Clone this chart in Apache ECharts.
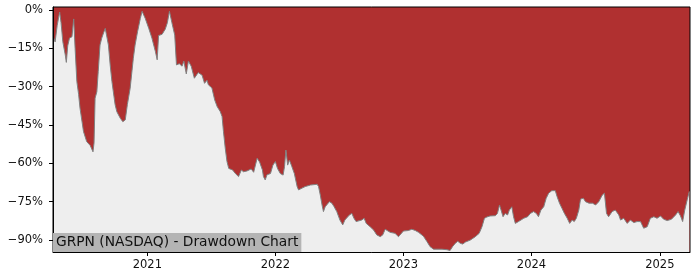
<!DOCTYPE html>
<html><head><meta charset="utf-8">
<script src="https://cdn.jsdelivr.net/npm/echarts@6/dist/echarts.min.js"></script>
<style>html,body{margin:0;padding:0;background:#fff}#c{width:700px;height:280px}</style>
</head><body><div id="c"></div>
<script>
const dates = ['2020-04-08','2020-04-13','2020-04-19','2020-04-26','2020-04-30','2020-05-05','2020-05-12','2020-05-15','2020-05-19','2020-05-24','2020-05-31','2020-06-05','2020-06-09','2020-06-14','2020-06-19','2020-06-23','2020-07-03','2020-07-12','2020-07-22','2020-07-30','2020-08-02','2020-08-05','2020-08-10','2020-08-14','2020-08-19','2020-08-24','2020-08-29','2020-09-03','2020-09-07','2020-09-12','2020-09-17','2020-09-22','2020-09-26','2020-10-01','2020-10-06','2020-10-16','2020-10-23','2020-10-30','2020-11-05','2020-11-13','2020-11-22','2020-11-27','2020-12-04','2020-12-12','2020-12-17','2020-12-26','2021-01-05','2021-01-14','2021-01-24','2021-01-29','2021-02-02','2021-02-12','2021-02-21','2021-02-27','2021-03-05','2021-03-12','2021-03-20','2021-03-25','2021-04-02','2021-04-10','2021-04-15','2021-04-22','2021-04-28','2021-05-06','2021-05-15','2021-05-26','2021-06-06','2021-06-13','2021-06-20','2021-06-24','2021-07-04','2021-07-12','2021-07-19','2021-07-28','2021-08-02','2021-08-06','2021-08-11','2021-08-16','2021-08-21','2021-08-25','2021-09-01','2021-09-09','2021-09-18','2021-09-26','2021-10-02','2021-10-12','2021-10-24','2021-10-31','2021-11-10','2021-11-17','2021-11-25','2021-11-28','2021-12-03','2021-12-08','2021-12-13','2021-12-18','2021-12-25','2022-01-01','2022-01-07','2022-01-15','2022-01-23','2022-01-27','2022-01-31','2022-02-05','2022-02-10','2022-02-17','2022-02-24','2022-03-04','2022-03-08','2022-03-18','2022-03-27','2022-04-11','2022-04-30','2022-05-04','2022-05-09','2022-05-14','2022-05-18','2022-05-23','2022-05-28','2022-06-04','2022-06-11','2022-06-17','2022-06-25','2022-07-04','2022-07-12','2022-07-18','2022-07-31','2022-08-07','2022-08-13','2022-08-19','2022-09-04','2022-09-11','2022-09-17','2022-09-28','2022-10-08','2022-10-17','2022-10-27','2022-11-03','2022-11-10','2022-11-24','2022-12-08','2022-12-18','2023-01-01','2023-01-15','2023-01-25','2023-02-04','2023-02-13','2023-02-27','2023-03-09','2023-03-18','2023-03-28','2023-04-21','2023-05-05','2023-05-14','2023-05-21','2023-05-29','2023-06-05','2023-06-12','2023-06-19','2023-06-27','2023-07-11','2023-07-25','2023-08-05','2023-08-13','2023-08-20','2023-08-27','2023-09-05','2023-09-20','2023-09-26','2023-10-02','2023-10-07','2023-10-12','2023-10-18','2023-10-25','2023-10-30','2023-11-06','2023-11-11','2023-11-16','2023-11-25','2023-12-10','2023-12-21','2023-12-29','2024-01-07','2024-01-15','2024-01-21','2024-01-28','2024-02-05','2024-02-12','2024-02-19','2024-02-28','2024-03-09','2024-03-14','2024-03-21','2024-03-28','2024-04-04','2024-04-12','2024-04-19','2024-04-26','2024-05-02','2024-05-08','2024-05-15','2024-05-20','2024-05-28','2024-06-03','2024-06-13','2024-06-23','2024-07-02','2024-07-11','2024-07-21','2024-07-27','2024-08-02','2024-08-08','2024-08-18','2024-08-27','2024-09-06','2024-09-11','2024-09-20','2024-09-30','2024-10-09','2024-10-19','2024-10-28','2024-11-07','2024-11-16','2024-11-26','2024-12-05','2024-12-15','2024-12-24','2025-01-03','2025-01-12','2025-01-22','2025-02-03','2025-02-15','2025-02-22','2025-03-01','2025-03-07','2025-03-13','2025-03-20','2025-03-26'];
const drawdown = [-10.4,-12.5,-6,-0.8,-5,-12.4,-17.6,-20.5,-14,-11,-10.5,-3.5,-15,-28,-33,-38.4,-47.6,-51.5,-53,-55.5,-52,-34.5,-32,-24,-13.7,-11,-9,-7.2,-7.8,-13.7,-21.5,-28,-32,-37,-39.8,-42.4,-43.7,-43,-37,-30.6,-18.9,-13.7,-8.5,-3.3,-0.5,-3.3,-7.2,-11,-16.3,-19.5,-10,-9.5,-7.5,-5,-0.5,-5,-9.8,-21.5,-21,-22,-20,-25,-20,-22,-26.7,-24.5,-25.5,-28.7,-27.5,-29.3,-30.5,-35.2,-37.8,-39.8,-41.7,-47.6,-54,-59.3,-62,-61.5,-62.6,-64,-65.2,-62.6,-63.3,-63,-62.2,-63.5,-58,-59.5,-62.6,-65.2,-66.5,-64.5,-65.2,-64,-60.7,-59.3,-62,-64,-64.6,-61.3,-54.8,-60.7,-58.7,-61.3,-64,-69.1,-70.4,-69.7,-69.1,-68.5,-68.2,-69.1,-72.4,-76.3,-78.9,-77,-76.3,-75,-75.6,-76.9,-78.9,-82.2,-84.1,-82.2,-80.2,-79.6,-81.5,-82.8,-82.2,-81.5,-83.5,-84.8,-86.1,-88,-88.7,-88,-85.8,-87,-87.4,-88.7,-86.5,-86.3,-85.8,-86.3,-87,-88.5,-90.6,-92.6,-93.6,-93.6,-93.8,-94.1,-92.6,-91.3,-90.5,-91.3,-91.6,-90.8,-90,-88.7,-87.4,-84.8,-81.5,-81,-80.6,-80.5,-79.6,-76.3,-77,-80.9,-79.6,-80.2,-78.3,-77,-80.9,-83.5,-82.8,-81.5,-80.9,-79.6,-78.9,-79.6,-80.9,-78.3,-77,-73.7,-71.7,-70.7,-70.7,-73,-75.6,-77.6,-79.6,-81.5,-83.5,-82.2,-82.8,-81.5,-78.3,-74,-73.7,-75,-75.6,-75.6,-76.3,-75,-72.4,-71.7,-79.6,-80.9,-78.9,-78.3,-80.2,-82.2,-81.5,-83.5,-82.2,-83.2,-82.8,-82.8,-85.4,-84.8,-81.5,-80.9,-81.5,-80.6,-81.9,-82.4,-81.9,-80.2,-78.9,-80.6,-82.8,-78.3,-74.3,-71];
const yearTicks = ['2021','2022','2023','2024','2025'];
const yTicks = [0,-15,-30,-45,-60,-75,-90];
const titleText = 'GRPN (NASDAQ) - Drawdown Chart';

function ts(s){ const p = s.split('-').map(Number); return Date.UTC(p[0], p[1]-1, p[2]); }
const seriesData = dates.map((d,i)=>[ts(d), drawdown[i]]);
const xTickVals = yearTicks.map(y=>ts(y+'-01-01'));
const font = 'DejaVu Sans';

const chart = echarts.init(document.getElementById('c'), null, {renderer:'canvas'});
chart.setOption({
  animation:false,
  backgroundColor:'#ffffff',
  title:{
    text:titleText, left:53, bottom:28,
    backgroundColor:'#b4b4b4', padding:[2,3,2,3],
    textStyle:{fontFamily:font, fontSize:13.8, fontWeight:'normal', color:'#111', lineHeight:15}
  },
  grid:{left:53, right:10, top:7, bottom:28, show:true, backgroundColor:'#b03030', borderColor:'#000', borderWidth:1},
  xAxis:{
    type:'value', min:ts('2020-04-07'), max:ts('2025-03-28'), z:5,
    axisLine:{show:true, onZero:false, lineStyle:{color:'#000', width:1}},
    axisTick:{show:true, length:4, lineStyle:{color:'#000'}, customValues:xTickVals},
    axisLabel:{customValues:xTickVals, fontFamily:font, fontSize:11.5, color:'#111', margin:7,
      formatter:function(v){ return String(new Date(v).getUTCFullYear()); }},
    splitLine:{show:false}
  },
  yAxis:{
    type:'value', min:-94.7, max:1.17, z:5,
    axisLine:{show:true, lineStyle:{color:'#000', width:1}},
    axisTick:{show:true, length:4, lineStyle:{color:'#000'}, customValues:yTicks},
    axisLabel:{customValues:yTicks, fontFamily:font, fontSize:11.5, color:'#111', margin:10,
      formatter:function(v){ return (v<0 ? '\u2212'+Math.abs(v) : String(v)) + '%'; }},
    splitLine:{show:false}
  },
  series:[{
    type:'line', data:seriesData, showSymbol:false, symbol:'none',
    lineStyle:{color:'#808080', width:1},
    areaStyle:{color:'#eeeeee', opacity:1, origin:'start'}
  }]
});
</script>
</body></html>
